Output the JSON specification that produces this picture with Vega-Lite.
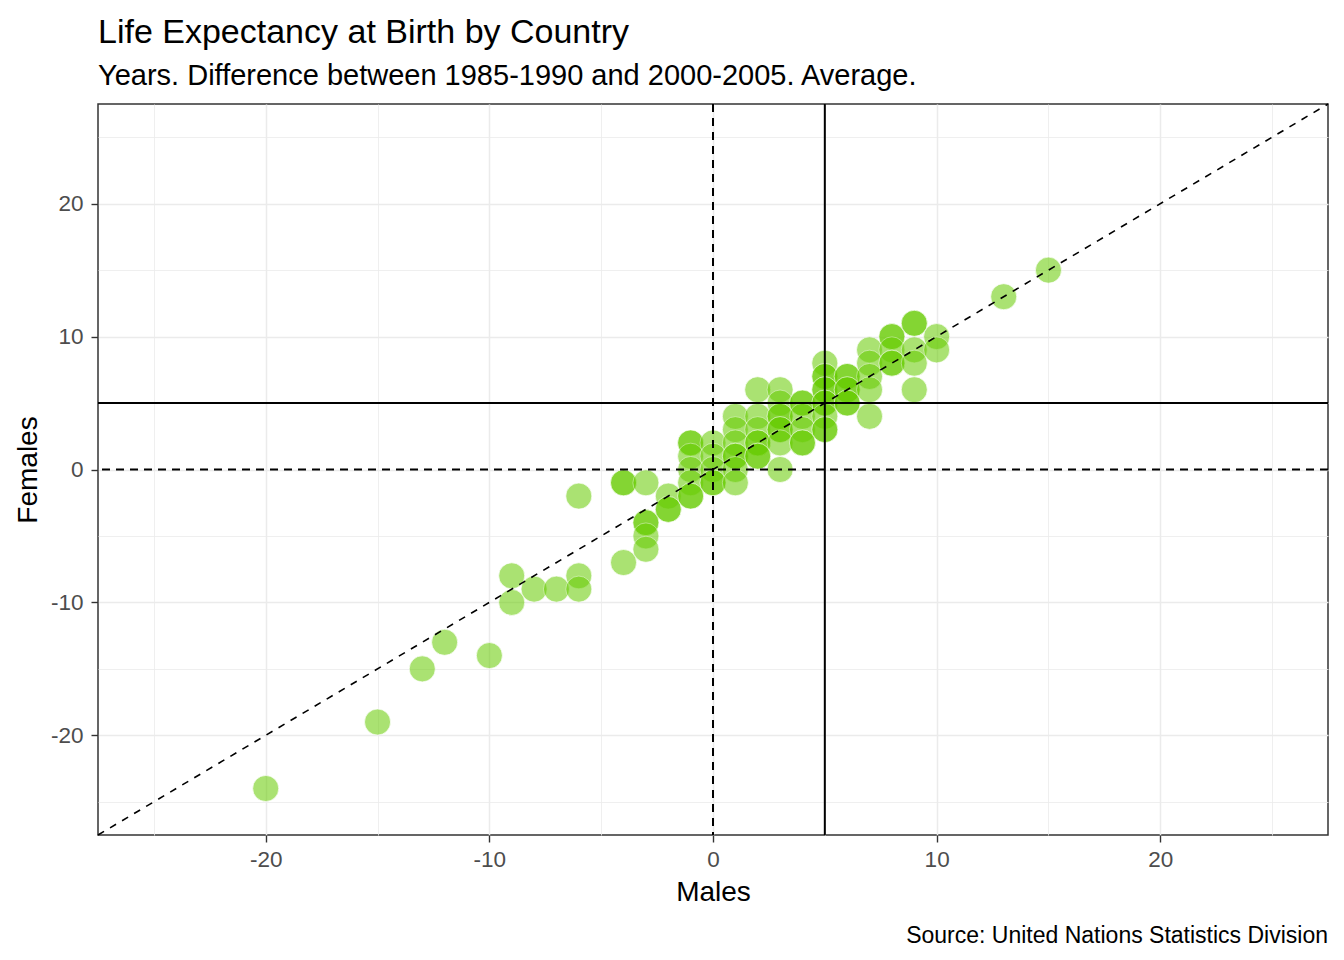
{
  "$schema": "https://vega.github.io/schema/vega-lite/v6.json",
  "padding": {"left": 13, "top": 15, "right": 10, "bottom": 5},
  "background": "white",
  "config": {
    "font": "Liberation Sans",
    "view": {"stroke": "#333333", "strokeWidth": 1.5},
    "title": {"fontWeight": "normal", "color": "black", "font": "Liberation Sans"}
  },
  "title": {
    "text": "Source: United Nations Statistics Division",
    "orient": "bottom",
    "anchor": "end",
    "frame": "group",
    "fontSize": 23,
    "offset": 18
  },
  "vconcat": [
    {
      "title": {
        "text": "Life Expectancy at Birth by Country",
        "subtitle": "Years. Difference between 1985-1990 and 2000-2005. Average.",
        "anchor": "start",
        "frame": "group",
        "fontSize": 34,
        "subtitleFontSize": 29,
        "subtitleColor": "black",
        "subtitleFont": "Liberation Sans",
        "subtitlePadding": 12,
        "offset": 12
      },
      "width": 1230,
      "height": 731,
      "layer": [
        {
          "data": {
            "values": [
              {"Males": -20, "Females": -24},
              {"Males": -15, "Females": -19},
              {"Males": -13, "Females": -15},
              {"Males": -12, "Females": -13},
              {"Males": -10, "Females": -14},
              {"Males": -9, "Females": -10},
              {"Males": -9, "Females": -8},
              {"Males": -8, "Females": -9},
              {"Males": -7, "Females": -9},
              {"Males": -6, "Females": -8},
              {"Males": -6, "Females": -9},
              {"Males": -6, "Females": -2},
              {"Males": -4, "Females": -7},
              {"Males": -4, "Females": -1},
              {"Males": -4, "Females": -1},
              {"Males": -3, "Females": -1},
              {"Males": -3, "Females": -4},
              {"Males": -3, "Females": -4},
              {"Males": -3, "Females": -5},
              {"Males": -3, "Females": -6},
              {"Males": -2, "Females": -2},
              {"Males": -2, "Females": -3},
              {"Males": -2, "Females": -3},
              {"Males": -1, "Females": 2},
              {"Males": -1, "Females": 2},
              {"Males": -1, "Females": 1},
              {"Males": -1, "Females": 0},
              {"Males": -1, "Females": -1},
              {"Males": -1, "Females": -2},
              {"Males": -1, "Females": -2},
              {"Males": 0, "Females": 2},
              {"Males": 0, "Females": 1},
              {"Males": 0, "Females": 0},
              {"Males": 0, "Females": -1},
              {"Males": 0, "Females": -1},
              {"Males": 1, "Females": 4},
              {"Males": 1, "Females": 3},
              {"Males": 1, "Females": 2},
              {"Males": 1, "Females": 1},
              {"Males": 1, "Females": 1},
              {"Males": 1, "Females": 0},
              {"Males": 1, "Females": -1},
              {"Males": 2, "Females": 6},
              {"Males": 2, "Females": 4},
              {"Males": 2, "Females": 3},
              {"Males": 2, "Females": 2},
              {"Males": 2, "Females": 2},
              {"Males": 2, "Females": 1},
              {"Males": 2, "Females": 1},
              {"Males": 3, "Females": 6},
              {"Males": 3, "Females": 5},
              {"Males": 3, "Females": 4},
              {"Males": 3, "Females": 4},
              {"Males": 3, "Females": 3},
              {"Males": 3, "Females": 3},
              {"Males": 3, "Females": 2},
              {"Males": 3, "Females": 0},
              {"Males": 4, "Females": 5},
              {"Males": 4, "Females": 5},
              {"Males": 4, "Females": 4},
              {"Males": 4, "Females": 3},
              {"Males": 4, "Females": 2},
              {"Males": 4, "Females": 2},
              {"Males": 5, "Females": 8},
              {"Males": 5, "Females": 7},
              {"Males": 5, "Females": 7},
              {"Males": 5, "Females": 6},
              {"Males": 5, "Females": 6},
              {"Males": 5, "Females": 5},
              {"Males": 5, "Females": 5},
              {"Males": 5, "Females": 4},
              {"Males": 5, "Females": 3},
              {"Males": 5, "Females": 3},
              {"Males": 6, "Females": 7},
              {"Males": 6, "Females": 7},
              {"Males": 6, "Females": 6},
              {"Males": 6, "Females": 6},
              {"Males": 6, "Females": 5},
              {"Males": 6, "Females": 5},
              {"Males": 7, "Females": 9},
              {"Males": 7, "Females": 8},
              {"Males": 7, "Females": 7},
              {"Males": 7, "Females": 6},
              {"Males": 7, "Females": 4},
              {"Males": 8, "Females": 10},
              {"Males": 8, "Females": 10},
              {"Males": 8, "Females": 9},
              {"Males": 8, "Females": 8},
              {"Males": 8, "Females": 8},
              {"Males": 9, "Females": 11},
              {"Males": 9, "Females": 11},
              {"Males": 9, "Females": 9},
              {"Males": 9, "Females": 8},
              {"Males": 9, "Females": 6},
              {"Males": 10, "Females": 10},
              {"Males": 10, "Females": 9},
              {"Males": 13, "Females": 13},
              {"Males": 15, "Females": 15}
            ]
          },
          "mark": {
            "type": "circle",
            "color": "#66CC00",
            "opacity": 0.55,
            "size": 680,
            "stroke": "white",
            "strokeWidth": 1,
            "strokeOpacity": 0.7
          },
          "encoding": {
            "x": {
              "field": "Males",
              "type": "quantitative",
              "title": "Males",
              "scale": {"domain": [-27.5, 27.5], "nice": false, "zero": false},
              "axis": {
                "values": [-25, -20, -15, -10, -5, 0, 5, 10, 15, 20, 25],
                "labelExpr": "datum.value % 10 === 0 ? '' + datum.value : ''",
                "domain": false,
                "grid": true,
                "gridColor": "#EBEBEB",
                "gridWidth": {"condition": {"test": "datum.value % 10 === 0", "value": 1.5}, "value": 0.8},
                "tickColor": "#333333",
                "tickWidth": 1.4,
                "tickSize": 7,
                "tickOpacity": {"condition": {"test": "datum.value % 10 === 0", "value": 1}, "value": 0},
                "labelFontSize": 22.5,
                "labelColor": "#4D4D4D",
                "labelPadding": 6,
                "titleFontSize": 28,
                "titleFontWeight": "normal",
                "titleColor": "black",
                "titlePadding": 8
              }
            },
            "y": {
              "field": "Females",
              "type": "quantitative",
              "title": "Females",
              "scale": {"domain": [-27.5, 27.5], "nice": false, "zero": false},
              "axis": {
                "values": [-25, -20, -15, -10, -5, 0, 5, 10, 15, 20, 25],
                "labelExpr": "datum.value % 10 === 0 ? '' + datum.value : ''",
                "domain": false,
                "grid": true,
                "gridColor": "#EBEBEB",
                "gridWidth": {"condition": {"test": "datum.value % 10 === 0", "value": 1.5}, "value": 0.8},
                "tickColor": "#333333",
                "tickWidth": 1.4,
                "tickSize": 7,
                "tickOpacity": {"condition": {"test": "datum.value % 10 === 0", "value": 1}, "value": 0},
                "labelFontSize": 22.5,
                "labelColor": "#4D4D4D",
                "labelPadding": 8,
                "titleFontSize": 28,
                "titleFontWeight": "normal",
                "titleColor": "black",
                "titlePadding": 8
              }
            }
          }
        },
        {
          "data": {"values": [{"v": 0, "kind": "zero"}, {"v": 5, "kind": "mean"}]},
          "mark": {"type": "rule", "color": "black", "strokeWidth": 2},
          "encoding": {
            "x": {"field": "v", "type": "quantitative"},
            "strokeDash": {
              "field": "kind",
              "type": "nominal",
              "scale": {"domain": ["zero", "mean"], "range": [[8, 6], [1, 0]]},
              "legend": null
            }
          }
        },
        {
          "data": {"values": [{"v": 0, "kind": "zero"}, {"v": 5, "kind": "mean"}]},
          "mark": {"type": "rule", "color": "black", "strokeWidth": 2},
          "encoding": {
            "y": {"field": "v", "type": "quantitative"},
            "strokeDash": {
              "field": "kind",
              "type": "nominal",
              "scale": {"domain": ["zero", "mean"], "range": [[8, 6], [1, 0]]},
              "legend": null
            }
          }
        },
        {
          "data": {"values": [{"x1": -27.5, "y1": -27.5, "x2": 27.5, "y2": 27.5}]},
          "mark": {"type": "rule", "color": "black", "strokeWidth": 1.6, "strokeDash": [7, 7]},
          "encoding": {
            "x": {"field": "x1", "type": "quantitative"},
            "y": {"field": "y1", "type": "quantitative"},
            "x2": {"field": "x2"},
            "y2": {"field": "y2"}
          }
        }
      ]
    }
  ]
}
